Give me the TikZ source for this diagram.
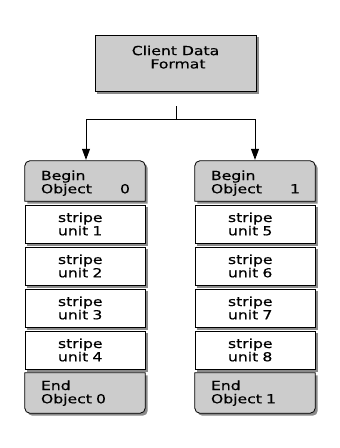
\documentclass[tikz,border=0pt]{standalone}
\usepackage{fontspec}
\setmainfont{DejaVu Sans}[FakeStretch=1.25,FakeBold=0.5]
\usetikzlibrary{arrows.meta,backgrounds,calc}
\definecolor{boxgray}{HTML}{CCCCCC}
\definecolor{shadowgray}{HTML}{8A8A8A}
\tikzset{
  txt/.style={font=\fontsize{12.5}{13.3}\selectfont, text=black},
  plainbox/.style={txt, draw=black, line width=0.8pt, fill=white, minimum width=120pt,
    minimum height=38pt, inner ysep=0pt, inner xsep=33pt, text width=54pt, align=left},
  capbox/.style={txt, minimum width=120pt, minimum height=40pt, inner ysep=0pt,
    inner xsep=15pt, text width=90pt, align=left},
  outline/.style={draw=black, line width=0.8pt},
  conn/.style={line width=0.8pt, draw=black},
  tip/.style={-{Triangle[length=11pt,width=8pt]}},
  shadowed/.style={fill=shadowgray, transform canvas={shift={(2.5pt,-2.5pt)}}},
}
\newcommand\BeginShp[1]{(#1.south west) -- ($(#1.north west)+(0,5)$) arc[start angle=180,end angle=90,radius=5pt] -- ($(#1.north east)+(-5,0)$) arc[start angle=90,end angle=0,radius=5pt] -- (#1.south east) -- cycle}
\newcommand\EndShp[1]{(#1.north west) -- ($(#1.south west)+(0,-5)$) arc[start angle=180,end angle=270,radius=5pt] -- ($(#1.south east)+(-5,0)$) arc[start angle=270,end angle=360,radius=5pt] -- (#1.north east) -- cycle}
\begin{document}
\begin{tikzpicture}[x=1pt,y=-1pt]
\useasboundingbox (0,0) rectangle (340,448);
% top box
\node[txt, draw=black, line width=0.8pt, fill=boxgray, minimum width=161pt, minimum height=56pt,
  inner sep=0pt, align=center, text depth=12pt] (cdf) at (175.5,63) {Client Data\\~Format};
% left column
\node[capbox, text depth=11.5pt] (b0) at (85,181) {\hspace*{1pt}Begin\\\hspace*{1pt}Object\hfill 0};
\node[plainbox] (s1) at (85,224) {stripe\\unit 1};
\node[plainbox] (s2) at (85,266) {stripe\\unit 2};
\node[plainbox] (s3) at (85,308) {stripe\\unit 3};
\node[plainbox] (s4) at (85,350) {stripe\\unit 4};
\node[capbox, text depth=15.5pt] (e0) at (85,393) {\hspace*{1pt}End\\\hspace*{1pt}Object 0};
% right column
\node[capbox, text depth=11.5pt] (b1) at (255,181) {\hspace*{1pt}Begin\\\hspace*{1pt}Object\hfill 1};
\node[plainbox] (s5) at (255,224) {stripe\\unit 5};
\node[plainbox] (s6) at (255,266) {stripe\\unit 6};
\node[plainbox] (s7) at (255,308) {stripe\\unit 7};
\node[plainbox] (s8) at (255,350) {stripe\\unit 8};
\node[capbox, text depth=15.5pt] (e1) at (255,393) {\hspace*{1pt}End\\\hspace*{1pt}Object 1};
\begin{scope}[on background layer]
  \fill[white] (0,0) rectangle (340,448);
  \fill[shadowed] (cdf.south west) rectangle (cdf.north east);
  \foreach \n in {s1,s2,s3,s4,s5,s6,s7,s8}
    \fill[shadowed] (\n.south west) rectangle (\n.north east);
  \foreach \n in {b0,b1} {
    \fill[shadowed] \BeginShp{\n};
    \path[fill=boxgray, outline] \BeginShp{\n};
  }
  \foreach \n in {e0,e1} {
    \fill[shadowed] \EndShp{\n};
    \path[fill=boxgray, outline] \EndShp{\n};
  }
\end{scope}
% connectors
\coordinate (stem) at (176,106);
\coordinate (fork) at (176,119);
\draw[conn] (stem) -- (fork);
\draw[conn, tip] (fork) -| ($(b0.north)+(1,-1)$);
\draw[conn, tip] (fork) -| ($(b1.north)+(0,-1)$);
\end{tikzpicture}
\end{document}
